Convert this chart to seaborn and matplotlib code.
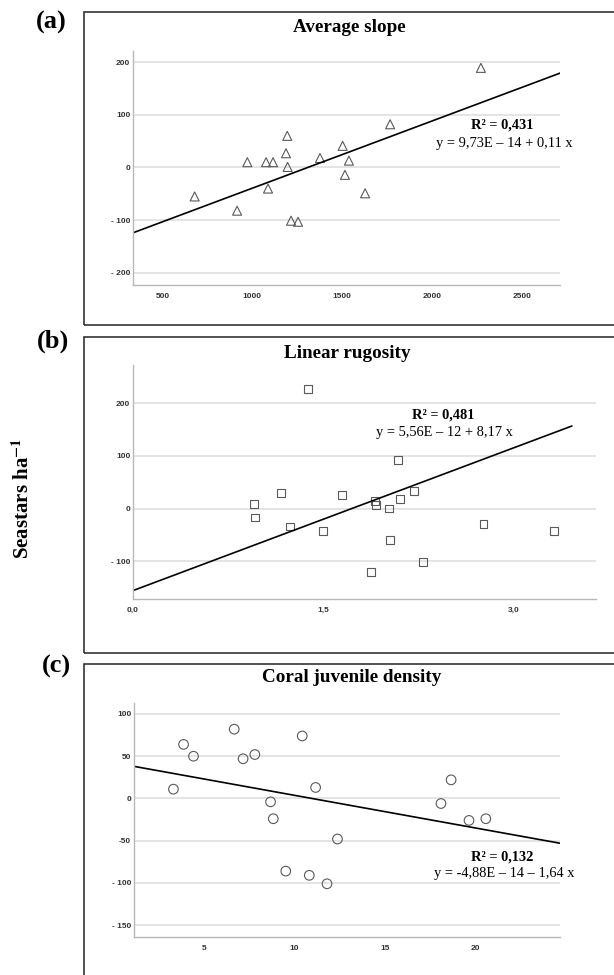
import numpy as np
import matplotlib
matplotlib.use("Agg")
import matplotlib.pyplot as plt
from matplotlib.patches import Rectangle
import seaborn as sns

sns.set_style("white")
plt.rcParams['font.family'] = ['Liberation Serif', 'DejaVu Serif']
plt.rcParams['mathtext.fontset'] = 'stix'
plt.rcParams['text.color'] = 'black'

# (a) Average slope
slope_x = [679, 915, 972, 1076, 1115, 1087, 1194, 1187, 1196, 1215, 1254,
           1376, 1502, 1537, 1515, 1627, 1766, 2271]
slope_y = [-55, -82, 10, 10, 10, -40, 60, 27, 1, -101, -103,
           18, 41, 13, -14, -49, 82, 189]
slope_fit_x = [336, 2711]
slope_fit_y = [-124, 179]

# (b) Linear rugosity
rug_x = [1.38, 0.955, 0.96, 1.164, 1.235, 1.50, 1.648, 1.876, 1.906, 1.915,
         2.017, 2.023, 2.088, 2.103, 2.217, 2.288, 2.763, 3.32]
rug_y = [228, 9, -17, 30, -34, -42, 25, -121, 14, 6,
         0, -59, 92, 18, 33, -101, -30, -43]
rug_fit_x = [0.0, 3.46]
rug_fit_y = [-156, 157]

# (c) Coral juvenile density
cor_x = [3.31, 3.87, 4.42, 6.67, 7.16, 7.81, 8.68, 8.83, 9.52, 10.43,
         10.82, 11.17, 11.80, 12.38, 18.1, 18.66, 19.65, 20.58]
cor_y = [11, 64, 50, 82, 47, 52, -4, -24, -86, 74,
         -91, 13, -101, -48, -6, 22, -26, -24]
cor_fit_x = [1.13, 24.68]
cor_fit_y = [38, -53]

W, H = 614, 975
fig = plt.figure(figsize=(W / 100, H / 100), dpi=100)


def px_rect(left, top, right, bottom):
    return [left / W, 1 - bottom / H, (right - left) / W, (bottom - top) / H]


def ftext(x, y, s, **kw):
    fig.text(x / W, 1 - y / H, s, ha='center', va='center', color='black', **kw)


def frame(top, bottom):
    fig.add_artist(Rectangle((84 / W, 1 - bottom / H), (640 - 84) / W, (bottom - top) / H,
                             transform=fig.transFigure, fill=False,
                             ec='#333333', lw=1.2, clip_on=True))


def style_axes(ax, xlim, ylim, xt, xtl, yt, ytl):
    ax.set_xlim(*xlim)
    ax.set_ylim(*ylim)
    ax.set_xticks(xt)
    ax.set_xticklabels(xtl)
    ax.set_yticks(yt)
    ax.set_yticklabels(ytl)
    ax.yaxis.grid(True, color='#e2e2e2', lw=1.3)
    ax.xaxis.grid(False)
    ax.set_axisbelow(True)
    for s in ['top', 'right']:
        ax.spines[s].set_visible(False)
    for s in ['left', 'bottom']:
        ax.spines[s].set_color('#b8b8b8')
        ax.spines[s].set_linewidth(1.0)
    ax.tick_params(length=0, labelsize=6, labelcolor='#333333')
    ax.tick_params(axis='y', pad=2)
    ax.tick_params(axis='x', pad=6)
    for lab in ax.get_xticklabels() + ax.get_yticklabels():
        lab.set_fontfamily('Liberation Sans')
        lab.set_fontweight('bold')
    ax.set_xlabel('')
    ax.set_ylabel('')
    ax.set_facecolor('white')


frame(12, 325)
frame(337, 653)
frame(664, 990)

sc_kw = dict(facecolor='none', edgecolor='#5a5a5a', linewidth=0.8, legend=False)

# panel a
ax1 = fig.add_axes(px_rect(133, 51, 560, 285))
sns.scatterplot(x=slope_x, y=slope_y, marker='^', s=42, ax=ax1, **sc_kw)
sns.lineplot(x=slope_fit_x, y=slope_fit_y, color='black', lw=1.2, ax=ax1)
style_axes(ax1, (336, 2711), (-223, 221), [500, 1000, 1500, 2000, 2500],
           ['500', '1000', '1500', '2000', '2500'],
           [-200, -100, 0, 100, 200], ['- 200', '- 100', '0', '100', '200'])

# panel b
ax2 = fig.add_axes(px_rect(133, 365, 596, 599))
sns.scatterplot(x=rug_x, y=rug_y, marker='s', s=32, ax=ax2, **sc_kw)
sns.lineplot(x=rug_fit_x, y=rug_fit_y, color='black', lw=1.2, ax=ax2)
style_axes(ax2, (0.0, 3.65), (-172, 273), [0.0, 1.5, 3.0], ['0,0', '1,5', '3,0'],
           [-100, 0, 100, 200], ['- 100', '0', '100', '200'])

# panel c
ax3 = fig.add_axes(px_rect(134, 703, 560, 937))
sns.scatterplot(x=cor_x, y=cor_y, marker='o', s=48, ax=ax3, **sc_kw)
sns.lineplot(x=cor_fit_x, y=cor_fit_y, color='black', lw=1.2, ax=ax3)
style_axes(ax3, (1.13, 24.68), (-164, 113), [5, 10, 15, 20], ['5', '10', '15', '20'],
           [-150, -100, -50, 0, 50, 100], ['- 150', '- 100', '-50', '0', '50', '100'])

# titles and panel letters
ftext(349, 28, 'Average slope', fontsize=13.8, fontweight='bold')
ftext(347, 353, 'Linear rugosity', fontsize=13.8, fontweight='bold')
ftext(352, 678, 'Coral juvenile density', fontsize=13.8, fontweight='bold')
ftext(51, 22, '(a)', fontsize=19, fontweight='bold')
ftext(53, 341, '(b)', fontsize=19, fontweight='bold')
ftext(56, 666, '(c)', fontsize=19, fontweight='bold')

# equations
ftext(502, 125, 'R² = 0,431', fontsize=10.4, fontweight='bold')
ftext(504, 143, 'y = 9,73E – 14 + 0,11 x', fontsize=10.4)
ftext(443, 415, 'R² = 0,481', fontsize=10.4, fontweight='bold')
ftext(444, 432, 'y = 5,56E – 12 + 8,17 x', fontsize=10.4)
ftext(502, 857, 'R² = 0,132', fontsize=10.4, fontweight='bold')
ftext(504, 874, 'y = -4,88E – 14 – 1,64 x', fontsize=10.4)

# shared y label
fig.text(23 / W, 1 - 498 / H, r'Seastars ha$^{\mathbf{-1}}$', rotation=90,
         ha='center', va='center', fontsize=15, fontweight='bold', color='black')

fig.savefig('out.png', dpi=100)
